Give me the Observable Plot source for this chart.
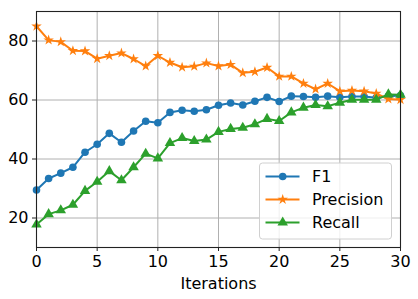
<!DOCTYPE html>
<html>
<head>
<meta charset="utf-8">
<script src="https://cdn.jsdelivr.net/npm/d3@7"></script>
<script src="https://cdn.jsdelivr.net/npm/@observablehq/plot@0.6"></script>
<style>
  html, body { margin: 0; padding: 0; background: white; }
  #chart { width: 418px; height: 299px; }
</style>
</head>
<body>
<div id="chart"></div>
<script>
const iterations = [0,1,2,3,4,5,6,7,8,9,10,11,12,13,14,15,16,17,18,19,20,21,22,23,24,25,26,27,28,29,30];
const f1 = [29.5,33.4,35.2,37.2,42.3,45.0,48.7,45.7,49.5,52.8,52.3,55.8,56.5,56.2,56.7,58.2,59.0,58.3,59.6,60.9,59.5,61.3,61.2,60.9,61.3,60.9,61.2,61.2,60.8,61.3,61.5];
const precision = [85.0,80.3,79.7,76.7,76.6,74.0,75.0,75.9,73.9,71.5,75.0,72.7,71.1,71.4,72.5,71.5,72.0,69.2,69.6,71.0,68.0,68.0,65.6,63.7,65.6,63.0,63.2,63.0,62.2,60.3,60.1];
const recall = [17.8,21.3,22.6,24.5,29.2,32.3,35.9,32.8,37.2,41.8,40.2,45.4,47.1,46.1,46.6,49.2,50.2,50.6,51.8,53.6,52.9,55.8,57.4,58.3,57.9,59.1,60.1,60.1,60.1,61.9,61.8];
const seriesNames = ["F1", "Precision", "Recall"];
const seriesValues = [f1, precision, recall];
const seriesColors = ["#1f77b4", "#ff7f0e", "#2ca02c"];
const seriesSymbols = ["circle", "star", "triangle"];
const xTicks = [0,5,10,15,20,25,30];
const yTicks = [20,40,60,80];

const font = "DejaVu Sans, sans-serif";
const marks = [
  Plot.gridX(xTicks, {stroke: "#b0b0b0", strokeOpacity: 1, strokeWidth: 1}),
  Plot.gridY(yTicks, {stroke: "#b0b0b0", strokeOpacity: 1, strokeWidth: 1})
];
const symbolR = {circle: 3.8, star: 3.3, triangle: 3.9};
seriesNames.forEach((name, s) => {
  const data = iterations.map((it, i) => ({it, v: seriesValues[s][i]}));
  marks.push(Plot.line(data, {x: "it", y: "v", stroke: seriesColors[s], strokeWidth: 2}));
  marks.push(Plot.dot(data, {x: "it", y: "v", fill: seriesColors[s], stroke: "none", symbol: seriesSymbols[s], r: symbolR[seriesSymbols[s]]}));
});
marks.push(Plot.frame({stroke: "#222", strokeWidth: 1.1}));
marks.push(Plot.axisX(xTicks, {tickSize: 4, tickPadding: 4, fontSize: 16, label: "Iterations", labelAnchor: "center", labelArrow: "none", labelOffset: 41, color: "black", stroke: "#222"}));
marks.push(Plot.axisY(yTicks, {tickSize: 4, tickPadding: 4, fontSize: 16, label: null, color: "black", stroke: "#222"}));

const plot = Plot.plot({
  width: 418,
  height: 299,
  marginLeft: 36,
  marginRight: 18,
  marginTop: 11,
  marginBottom: 52,
  style: {fontFamily: font, fontSize: "16px", color: "black", background: "white"},
  x: {domain: [0, 30]},
  y: {domain: [10, 90]},
  marks
});
document.getElementById("chart").appendChild(plot);

// Legend (matplotlib style, lower right)
const svg = d3.select(plot);
const lg = svg.append("g").attr("transform", "translate(259.5,163)");
lg.append("rect").attr("width", 132).attr("height", 76).attr("rx", 3)
  .attr("fill", "white").attr("fill-opacity", 0.8).attr("stroke", "#d0d0d0").attr("stroke-width", 1);
const symMap = {circle: d3.symbolCircle, star: d3.symbolStar, triangle: d3.symbolTriangle};
seriesNames.forEach((name, s) => {
  const cy = 13.5 + s * 23;
  lg.append("line").attr("x1", 6).attr("x2", 40).attr("y1", cy).attr("y2", cy)
    .attr("stroke", seriesColors[s]).attr("stroke-width", 2);
  const r = symbolR[seriesSymbols[s]];
  lg.append("path").attr("transform", `translate(23.2,${cy})`)
    .attr("d", d3.symbol(symMap[seriesSymbols[s]], Math.PI * r * r)())
    .attr("fill", seriesColors[s]);
  lg.append("text").attr("x", 52.5).attr("y", cy).attr("dy", "0.35em")
    .attr("text-anchor", "start")
    .attr("font-family", font).attr("font-size", 16).attr("fill", "black").text(name);
});
</script>
</body>
</html>
